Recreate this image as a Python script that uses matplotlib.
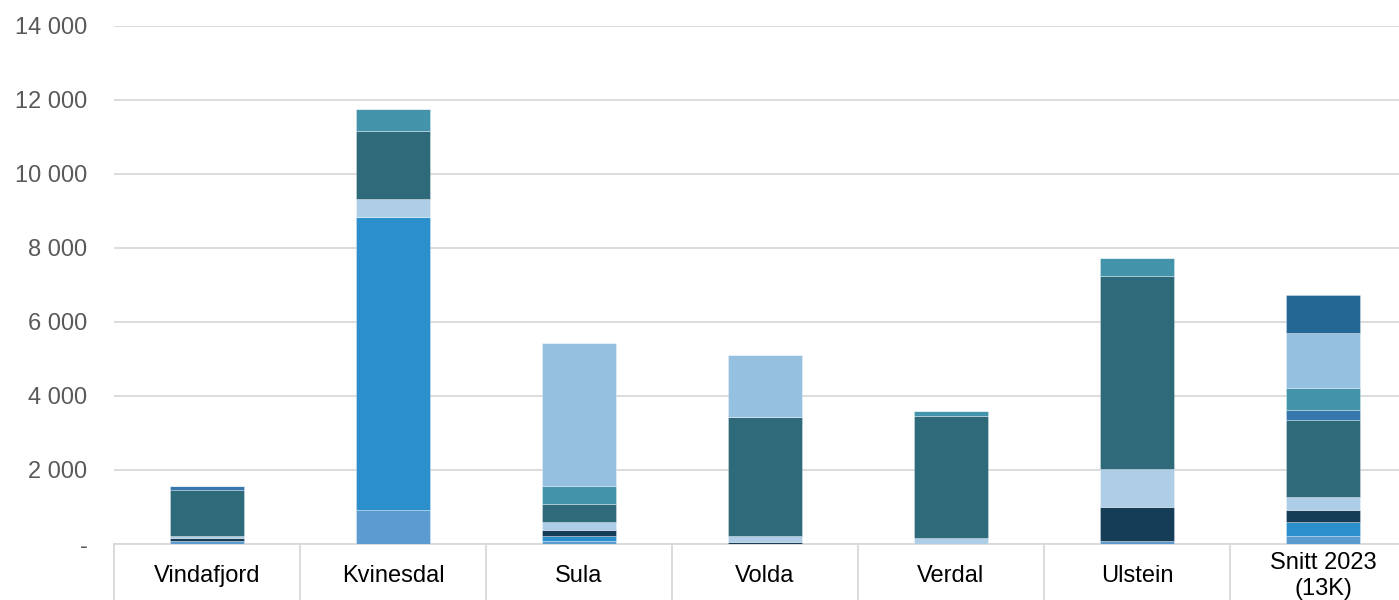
import matplotlib.pyplot as plt
import numpy as np

plt.rcParams['font.family'] = ['Liberation Sans', 'DejaVu Sans']

categories = ['Vindafjord', 'Kvinesdal', 'Sula', 'Volda', 'Verdal', 'Ulstein', 'Snitt 2023\n(13K)']

# stacked series, bottom to top
s1 = [80, 920, 90, 0, 0, 80, 220]
s2 = [0, 7930, 126, 0, 0, 0, 370]
s3 = [90, 0, 162, 60, 0, 930, 330]
s4 = [50, 480, 226, 150, 150, 1010, 340]
s5 = [1240, 1840, 469, 3220, 3310, 5210, 2090]
s6 = [120, 0, 0, 0, 0, 0, 270]
s7 = [0, 600, 504, 0, 140, 490, 600]
s8 = [0, 0, 3843, 1670, 0, 0, 1490]
s9 = [0, 0, 0, 0, 0, 0, 1020]

series = [s1, s2, s3, s4, s5, s6, s7, s8, s9]
colors = ['#5B9BCF', '#2A8FCB', '#163D57', '#AECDE6', '#2F6A7A',
          '#3678AE', '#4393AB', '#96C0E0', '#236894']

yticks = [0, 2000, 4000, 6000, 8000, 10000, 12000, 14000]
ylabels = ['-', '2 000', '4 000', '6 000', '8 000', '10 000', '12 000', '14 000']

fig = plt.figure(figsize=(13.99, 6.0), dpi=100)
ax = fig.add_axes([114 / 1399, 56 / 600, 1302 / 1399, 518 / 600])

x = np.arange(len(categories))
bottom = np.zeros(len(categories))
for vals, c in zip(series, colors):
    vals = np.array(vals, dtype=float)
    ax.bar(x, vals, 0.4, bottom=bottom, color=c, edgecolor=(1, 1, 1, 0.35),
           linewidth=0.6, zorder=3)
    bottom += vals

ax.set_xlim(-0.5, len(categories) - 0.5)
ax.set_ylim(0, 14000)
ax.set_yticks(yticks)
ax.set_yticklabels(ylabels, fontsize=17, color='#595959')
ax.tick_params(axis='y', length=0, pad=19)
ax.grid(axis='y', color='#D9D9D9', linewidth=1.3, zorder=0)

ax.set_xticks(x)
ax.set_xticklabels(categories, fontsize=17, color='#000000')
ax.tick_params(axis='x', length=0, pad=23)
for lab in ax.get_xticklabels():
    lab.set_va('center')
    lab.set_linespacing(1.2)

for sp in ['top', 'right', 'left']:
    ax.spines[sp].set_visible(False)
ax.spines['bottom'].set_color('#D9D9D9')
ax.spines['bottom'].set_linewidth(1.3)

# category separators below the axis
trans = ax.get_xaxis_transform()
for b in np.arange(-0.5, len(categories) - 0.5, 1.0):
    ax.plot([b, b], [0, -0.12], transform=trans, color='#D9D9D9',
            linewidth=1.3, clip_on=False)

fig.savefig('out.png', dpi=100)
